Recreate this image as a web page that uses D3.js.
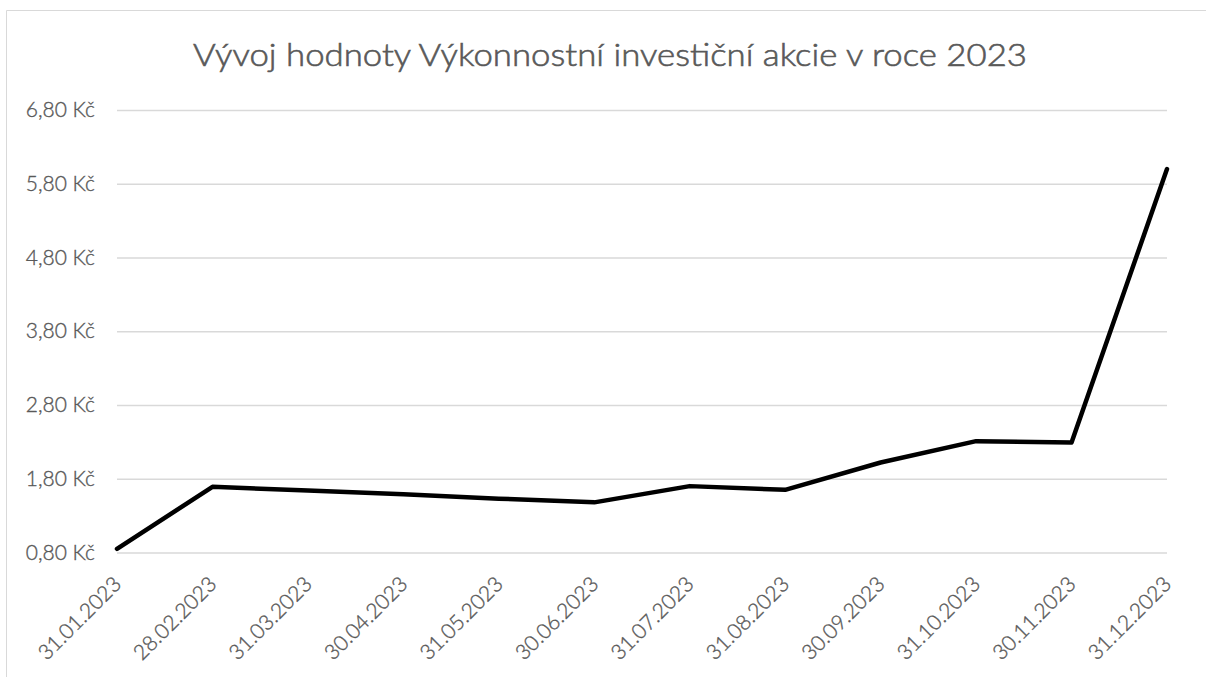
<!DOCTYPE html>
<html>
<head>
<meta charset="utf-8">
<script src="https://cdn.jsdelivr.net/npm/d3@7"></script>
<style>
  body { margin: 0; background: #fff; }
  svg { display: block; }
  text { font-family: Lato, "Open Sans", sans-serif; fill: #595959; }
</style>
</head>
<body>
<div id="chart"></div>
<script>
// data
var dates = ["31.01.2023", "28.02.2023", "31.03.2023", "30.04.2023", "31.05.2023", "30.06.2023",
             "31.07.2023", "31.08.2023", "30.09.2023", "31.10.2023", "30.11.2023", "31.12.2023"];
var values = [0.85, 1.69, 1.64, 1.59, 1.53, 1.48, 1.70, 1.65, 2.02, 2.31, 2.29, 6.00];
var yTicks = [0.8, 1.8, 2.8, 3.8, 4.8, 5.8, 6.8];
var title = "Vývoj hodnoty Výkonnostní investiční akcie v roce 2023";

var W = 1206, H = 677;
var margin = { top: 110, right: 39, bottom: 124.5, left: 117 };
var width = W - margin.left - margin.right,
    height = H - margin.top - margin.bottom;

var svg = d3.select("#chart").append("svg")
    .attr("width", W)
    .attr("height", H);

// chart frame (only left and top edges are visible)
svg.append("path")
    .attr("d", "M6.5," + H + "V10.5H" + W)
    .attr("fill", "none")
    .attr("stroke", "#d9d9d9")
    .attr("stroke-width", 1);

svg.append("text")
    .attr("x", 610)
    .attr("y", 66)
    .attr("text-anchor", "middle")
    .attr("textLength", 834)
    .attr("lengthAdjust", "spacingAndGlyphs")
    .style("font-size", "31px")
    .style("font-weight", 300)
    .style("stroke", "#595959")
    .style("stroke-width", 0.6)
    .text(title);

var g = svg.append("g")
    .attr("transform", "translate(" + margin.left + "," + margin.top + ")");

var x = d3.scalePoint()
    .domain(dates)
    .range([0, width]);

var y = d3.scaleLinear()
    .domain([0.8, 6.8])
    .range([height, 0]);

var fmt = function(d) { return d3.format(".2f")(d).replace(".", ",") + " Kč"; };

// gridlines + y labels
var yAxis = d3.axisLeft(y)
    .tickValues(yTicks)
    .tickSize(-width)
    .tickPadding(22)
    .tickFormat(fmt);

g.append("g")
    .attr("class", "y-axis")
    .call(yAxis)
    .call(function(sel) {
        sel.select(".domain").remove();
        sel.selectAll(".tick line").attr("stroke", "#d9d9d9").attr("stroke-width", 1.3);
        sel.selectAll(".tick text")
            .style("font-size", "21px")
            .style("font-weight", 300)
            .style("stroke", "#595959")
            .style("stroke-width", 0.35)
            .attr("fill", "#595959");
    });

// x labels, rotated
var xAxis = d3.axisBottom(x).tickSize(0).tickPadding(0);

g.append("g")
    .attr("class", "x-axis")
    .attr("transform", "translate(0," + height + ")")
    .call(xAxis)
    .call(function(sel) {
        sel.select(".domain").remove();
        sel.selectAll(".tick text")
            .style("font-size", "21px")
            .style("font-weight", 300)
            .style("stroke", "#595959")
            .style("stroke-width", 0.35)
            .attr("fill", "#595959")
            .attr("text-anchor", "end")
            .attr("dy", null)
            .attr("y", null)
            .attr("transform", "translate(5,33) rotate(-45)");
    });

var line = d3.line()
    .x(function(d, i) { return x(dates[i]); })
    .y(function(d) { return y(d); });

g.append("path")
    .datum(values)
    .attr("d", line)
    .attr("fill", "none")
    .attr("stroke", "#000")
    .attr("stroke-width", 4.5)
    .attr("stroke-linejoin", "round")
    .attr("stroke-linecap", "round");
</script>
</body>
</html>
